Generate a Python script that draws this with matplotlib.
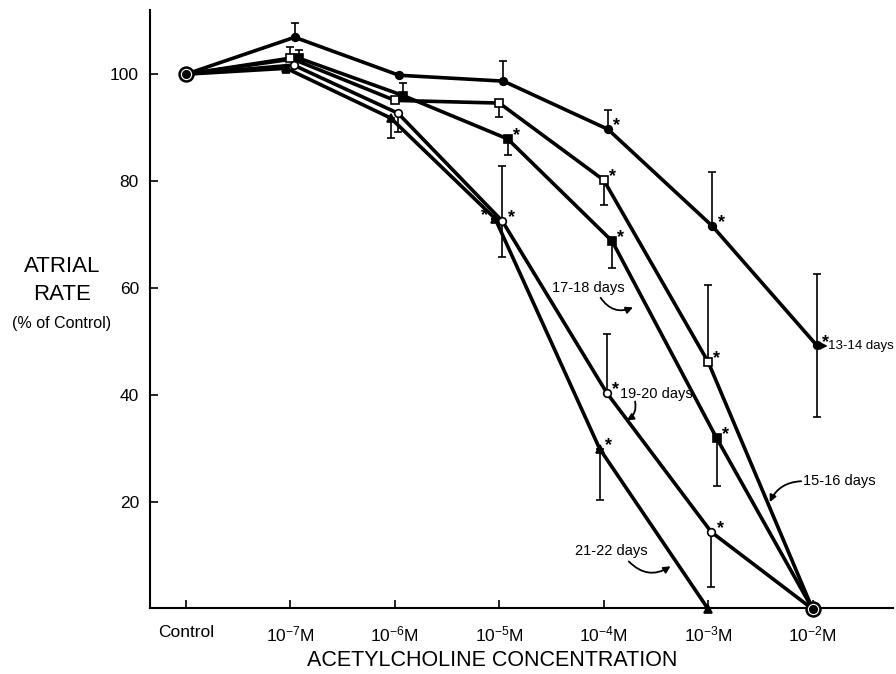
import matplotlib
matplotlib.use("Agg")
import matplotlib.pyplot as plt
import numpy as np

plt.rcParams['font.family'] = ['Liberation Sans', 'DejaVu Sans']
plt.rcParams['mathtext.default'] = 'regular'

categories = ['Control', r'10$^{-7}$M', r'10$^{-6}$M', r'10$^{-5}$M',
              r'10$^{-4}$M', r'10$^{-3}$M', r'10$^{-2}$M']
yticks = [20, 40, 60, 80, 100]

# mean atrial rate (% of control)
d13_14 = [100, 106.9, 99.8, 98.7, 89.7, 71.6, 49.3]
d15_16 = [100, 103.0, 95.1, 94.6, 80.2, 46.2, 0]
d17_18 = [100, 103.0, 96.0, 87.9, 68.8, 32.0, 0]
d19_20 = [100, 101.7, 92.7, 72.5, 40.4, 14.4, 0]
d21_22 = [100, 101.1, 91.8, 73.0, 30.0, 0, None]

# one-sided error bars (upper, lower)
e13_up = [0, 2.6, 0, 3.7, 3.6, 10.1, 13.4]
e13_dn = [0, 0, 0, 0, 0, 0, 13.4]
e15_up = [0, 2.0, 0, 0, 0, 14.4, 0]
e15_dn = [0, 0, 0, 2.6, 4.7, 0, 0]
e17_up = [0, 1.5, 2.3, 0, 0, 0, 0]
e17_dn = [0, 0, 0, 3.0, 5.1, 9.0, 0]
e19_up = [0, 0, 0, 10.3, 11.0, 0, 0]
e19_dn = [0, 0, 3.5, 6.7, 0, 10.3, 0]
e21_up = [0, 0, 0, 0, 0, 0, 0]
e21_dn = [0, 0.9, 3.8, 0, 9.6, 0, 0]

# significance asterisks (1 = right of point, -1 = left of point)
s13 = [0, 0, 0, 0, 1, 1, 1]
s15 = [0, 0, 0, 0, 1, 1, 0]
s17 = [0, 0, 0, 1, 1, 1, 0]
s19 = [0, 0, 0, 1, 1, 1, 0]
s21 = [0, 0, 0, -1, 1, 0, 0]

series = [
    (d13_14, e13_up, e13_dn, s13, dict(marker='o', mfc='black'), 0.04),
    (d15_16, e15_up, e15_dn, s15, dict(marker='s', mfc='white'), 0.0),
    (d17_18, e17_up, e17_dn, s17, dict(marker='s', mfc='black'), 0.08),
    (d19_20, e19_up, e19_dn, s19, dict(marker='o', mfc='white'), 0.03),
    (d21_22, e21_up, e21_dn, s21, dict(marker='^', mfc='black'), -0.04),
]

fig = plt.figure(figsize=(8.96, 6.74), dpi=100)
ax = fig.add_axes([150/896, 1-608/674, (893-150)/896, (608-10)/674])

for vals, eu, ed, stars, mk, off in series:
    xs, ys = [], []
    for i, v in enumerate(vals):
        if v is None:
            continue
        dx = off if (i > 0 and v not in (0, 100)) else 0
        xs.append(i + dx)
        ys.append(v)
    xs = np.array(xs); ys = np.array(ys)
    n = len(xs)
    up = np.array(eu[:n]); dn = np.array(ed[:n])
    ax.errorbar(xs, ys, yerr=[dn, up], fmt='none', ecolor='black',
                elinewidth=1.2, capsize=3, capthick=1.2, zorder=2)
    ax.plot(xs, ys, color='black', lw=2.6, zorder=3, clip_on=False)
    mask = ((ys != 100) & (ys != 0)) | ((ys == 0) & (np.arange(n) == 5))
    ax.plot(xs[mask], ys[mask], linestyle='none', color='black',
            markersize=5.5, mec='black', mew=1.2, zorder=4, clip_on=False, **mk)
    for j in range(n):
        if stars[j] == 1:
            ax.text(xs[j] + 0.05, ys[j] + 0.6, '*', fontsize=13,
                    fontweight='bold', ha='left', va='center', zorder=5)
        elif stars[j] == -1:
            ax.text(xs[j] - 0.07, ys[j] + 0.6, '*', fontsize=13,
                    fontweight='bold', ha='right', va='center', zorder=5)

# double circle markers (control and 10^-2 M)
for (cx, cy) in [(0, 100), (6, 0)]:
    ax.plot(cx, cy, marker='o', markersize=10, mfc='white', mec='black',
            mew=1.8, zorder=6, clip_on=False)
    ax.plot(cx, cy, marker='o', markersize=5.5, mfc='black', mec='black',
            zorder=7, clip_on=False)

ax.set_xlim(-0.345, 6.77)
ax.set_ylim(0.2, 112)
ax.set_xticks(range(len(categories)))
ax.set_xticklabels(categories, fontsize=12.5)
ax.set_yticks(yticks)
ax.set_yticklabels([str(t) for t in yticks], fontsize=12.5)
ax.tick_params(direction='in', length=6, width=1.2, pad=8)
ax.tick_params(axis='x', pad=12)
for s in ['top', 'right']:
    ax.spines[s].set_visible(False)
for s in ['left', 'bottom']:
    ax.spines[s].set_linewidth(1.5)

fig.text(492/896, 1-661/674, 'ACETYLCHOLINE CONCENTRATION', fontsize=15.5,
         ha='center', va='center')

fig.text(62/896, 1-266/674, 'ATRIAL', fontsize=16, ha='center', va='center')
fig.text(62/896, 1-294/674, 'RATE', fontsize=16, ha='center', va='center')
fig.text(62/896, 1-324/674, '(% of Control)', fontsize=11.5, ha='center', va='center')

ap = dict(arrowstyle='-|>', color='black', lw=1.3, mutation_scale=10,
          shrinkA=0, shrinkB=0)
lab_fs = 10.5

ax.text(3.85, 60.0, '17-18 days', fontsize=lab_fs, ha='center', va='center')
ax.annotate('', xy=(4.28, 56.4), xytext=(3.97, 58.2),
            arrowprops=dict(connectionstyle='arc3,rad=0.4', **ap))

ax.text(4.16, 40.2, '19-20 days', fontsize=lab_fs, ha='left', va='center')
ax.annotate('', xy=(4.22, 35.3), xytext=(4.30, 38.8),
            arrowprops=dict(connectionstyle='arc3,rad=-0.35', **ap))

ax.text(4.07, 10.8, '21-22 days', fontsize=lab_fs, ha='center', va='center')
ax.annotate('', xy=(4.64, 8.0), xytext=(4.24, 8.9),
            arrowprops=dict(connectionstyle='arc3,rad=0.4', **ap))

ax.text(5.91, 23.9, '15-16 days', fontsize=lab_fs, ha='left', va='center')
ax.annotate('', xy=(5.59, 20.0), xytext=(5.89, 23.9),
            arrowprops=dict(connectionstyle='arc3,rad=0.3', **ap))

ax.text(6.15, 49.2, '13-14 days', fontsize=9.5, ha='left', va='center')
ax.annotate('', xy=(6.145, 49.2), xytext=(6.08, 49.2),
            arrowprops=dict(**ap))

fig.savefig('out.png', dpi=100)
